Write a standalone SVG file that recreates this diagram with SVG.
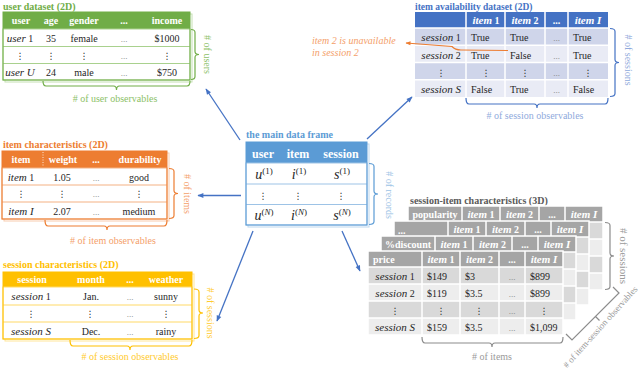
<svg xmlns="http://www.w3.org/2000/svg" xmlns:xlink="http://www.w3.org/1999/xlink" width="640" height="371" viewBox="0 0 640 371">
<defs>
<style>
text{font-family:"Liberation Serif","Times New Roman",serif;font-size:10px;fill:#262626}
.c{text-anchor:middle}
.w{fill:#fff;font-weight:bold}
.i{font-style:italic;font-size:11px}
.ttl{font-weight:bold;font-size:10px}
.dots{fill:#7f7f7f;font-size:9px}
.vd{font-family:"DejaVu Sans",sans-serif;font-size:9px}
.g{fill:#70AD47}.o{fill:#ED7D31}.y{fill:#FFC000}.bl{fill:#4472C4}.mb{fill:#5B9BD5}
.ga{fill:#8CC168}.oa{fill:#F4A06A}.ya{fill:#FFCB2E}.ba{fill:#8FAADC}.ra{fill:#9DC3E6}.gr{fill:#9A9A9A}
.br{fill:none;stroke-width:1.2}
.arrow{stroke:#4472C4;stroke-width:1.3;fill:none;marker-end:url(#ah)}
.mi{font-style:italic;font-size:14px}
.sup{font-size:9px}
</style>
<marker id="ah" viewBox="0 0 10 10" refX="9" refY="5" markerWidth="7" markerHeight="6" orient="auto" markerUnits="userSpaceOnUse"><path d="M0,1 L10,5 L0,9 z" fill="#4472C4"/></marker>
<marker id="ao" viewBox="0 0 10 10" refX="9" refY="5" markerWidth="6" markerHeight="5" orient="auto" markerUnits="userSpaceOnUse"><path d="M0,1 L10,5 L0,9 z" fill="#ED7D31"/></marker>
<g id="grid">
<rect x="0" y="0" width="195" height="16" fill="#A5A5A5"/>
<rect x="0" y="16" width="195" height="17" fill="#D9D9D9"/>
<rect x="0" y="33" width="195" height="17" fill="#EDEDED"/>
<rect x="0" y="50" width="195" height="17" fill="#D9D9D9"/>
<rect x="0" y="67" width="195" height="17" fill="#EDEDED"/>
<path d="M54,0V84M92,0V84M131,0V84M157,0V84M0,16H195M0,33H195M0,50H195M0,67H195" stroke="#fff" stroke-width="1.5"/>
<rect x="0" y="0" width="195" height="84" fill="none" stroke="#fff" stroke-width="1.5"/>
</g>
</defs>
<rect width="640" height="371" fill="#fff"/>

<!-- user dataset -->
<g id="user-dataset">
<text x="3" y="9.5" class="ttl g">user dataset (2D)</text>
<rect x="5" y="14" width="187" height="68" fill="none" stroke="#C5E0B4"/>
<rect x="3" y="12" width="187" height="17" fill="#70AD47"/>
<rect x="3" y="29" width="187" height="51" fill="#fff" stroke="#A9D18E"/>
<path d="M3,46.5H190M3,63.5H190" stroke="#A9D18E"/>
<rect x="3" y="12" width="187" height="68" fill="none" stroke="#70AD47"/>
<text x="21" y="24" class="w c">user</text>
<text x="51" y="24" class="w c">age</text>
<text x="84" y="24" class="w c">gender</text>
<text x="124" y="24" class="w c">...</text>
<text x="167" y="24" class="w c">income</text>
<text x="20" y="41.5" class="c"><tspan class="i">user</tspan> 1</text>
<text x="51" y="41.5" class="c">35</text>
<text x="84" y="41.5" class="c">female</text>
<text x="124" y="41.5" class="c dots">...</text>
<text x="167" y="41.5" class="c">$1000</text>
<text x="20" y="58.5" class="c vd">⋮</text>
<text x="51" y="58.5" class="c vd">⋮</text>
<text x="84" y="58.5" class="c vd">⋮</text>
<text x="124" y="58.5" class="c dots">...</text>
<text x="167" y="58.5" class="c vd">⋮</text>
<text x="20" y="75.5" class="c"><tspan class="i">user U</tspan></text>
<text x="51" y="75.5" class="c">24</text>
<text x="84" y="75.5" class="c">male</text>
<text x="124" y="75.5" class="c dots">...</text>
<text x="167" y="75.5" class="c">$750</text>
<path class="br" stroke="#70AD47" d="M191,29.5 Q195,29.5 195,32.5 V51.5 Q195,54.5 199,54.5 Q195,54.5 195,57.5 V76.5 Q195,79.5 191,79.5"/>
<text transform="translate(203.5,54.5) rotate(90)" class="c ga"># of users</text>
<path class="br" stroke="#70AD47" d="M43,81 Q43,86 46,86 H113.5 Q116.5,86 116.5,90 Q116.5,86 119.5,86 H187 Q190,86 190,81"/>
<text x="115" y="102" class="c ga"># of user observables</text>
</g>

<!-- item availability dataset -->
<g id="item-availability">
<text x="415" y="9.5" class="ttl bl" style="font-size:9.5px">item availability dataset (2D)</text>
<rect x="415" y="12" width="193" height="16" fill="#4472C4"/>
<rect x="415" y="28" width="193" height="17.3" fill="#CFD5EA"/>
<rect x="415" y="45.3" width="193" height="17.3" fill="#E9EBF5"/>
<rect x="415" y="62.6" width="193" height="17.2" fill="#CFD5EA"/>
<rect x="415" y="79.8" width="193" height="17.2" fill="#E9EBF5"/>
<path d="M466,12V97M505,12V97M545,12V97M568,12V97M415,28H608M415,45.3H608M415,62.6H608M415,79.8H608" stroke="#fff" stroke-width="1.5"/>
<text x="486" y="24" class="w c"><tspan class="i">item</tspan> 1</text>
<text x="525" y="24" class="w c"><tspan class="i">item</tspan> 2</text>
<text x="556.5" y="24" class="w c">...</text>
<text x="588" y="24" class="w c"><tspan class="i">item I</tspan></text>
<text x="441" y="41" class="c"><tspan class="i">session</tspan> 1</text>
<text x="471" y="41">True</text>
<text x="510" y="41">True</text>
<text x="556.5" y="41" class="c dots">...</text>
<text x="573" y="41">True</text>
<text x="441" y="58.5" class="c"><tspan class="i">session</tspan> 2</text>
<text x="471" y="58.5">True</text>
<text x="510" y="58.5">False</text>
<text x="556.5" y="58.5" class="c dots">...</text>
<text x="573" y="58.5">True</text>
<text x="441" y="75.5" class="c vd">⋮</text>
<text x="486" y="75.5" class="c vd">⋮</text>
<text x="525" y="75.5" class="c vd">⋮</text>
<text x="556.5" y="75.5" class="c dots">...</text>
<text x="588" y="75.5" class="c vd">⋮</text>
<text x="441" y="93" class="c"><tspan class="i">session S</tspan></text>
<text x="471" y="93">False</text>
<text x="510" y="93">True</text>
<text x="556.5" y="93" class="c dots">...</text>
<text x="573" y="93">False</text>
<path class="br" stroke="#4472C4" d="M610,28.5 Q615,28.5 615,31.5 V59.5 Q615,62.5 619,62.5 Q615,62.5 615,65.5 V93.5 Q615,96.5 610,96.5"/>
<text transform="translate(624.5,60) rotate(90)" class="c ba"># of sessions</text>
<path class="br" stroke="#4472C4" d="M466,98 Q466,104 469,104 H534 Q537,104 537,108 Q537,104 540,104 H605 Q608,104 608,98"/>
<text x="535" y="119" class="c ba"># of session observables</text>
</g>

<!-- annotation -->
<g id="unavailable-note">
<text x="312" y="44" class="oa" style="font-style:italic">item 2 is unavailable</text>
<text x="312" y="56" class="oa" style="font-style:italic">in session 2</text>
</g>

<!-- item characteristics -->
<g id="item-characteristics">
<text x="3" y="147.5" class="ttl o">item characteristics (2D)</text>
<rect x="4" y="153" width="165" height="68" fill="none" stroke="#F8CBAD"/>
<rect x="2" y="151" width="165" height="17" fill="#ED7D31"/>
<rect x="2" y="168" width="165" height="51" fill="#fff" stroke="#F4B183"/>
<path d="M2,185H167M2,202H167" stroke="#F4B183"/>
<rect x="2" y="151" width="165" height="68" fill="none" stroke="#ED7D31"/>
<path d="M43,152V167" stroke="#fff" stroke-dasharray="1,1.5" stroke-width="0.8"/>
<text x="21" y="163" class="w c">item</text>
<text x="63" y="163" class="w c">weight</text>
<text x="96" y="163" class="w c">...</text>
<text x="140" y="163" class="w c">durability</text>
<text x="21" y="180.5" class="c"><tspan class="i">item</tspan> 1</text>
<text x="62" y="180.5" class="c">1.05</text>
<text x="96" y="180.5" class="c dots">...</text>
<text x="139" y="180.5" class="c">good</text>
<text x="21" y="197" class="c vd">⋮</text>
<text x="62" y="197" class="c vd">⋮</text>
<text x="96" y="197" class="c dots">...</text>
<text x="139" y="197" class="c vd">⋮</text>
<text x="21" y="214.5" class="c"><tspan class="i">item I</tspan></text>
<text x="62" y="214.5" class="c">2.07</text>
<text x="96" y="214.5" class="c dots">...</text>
<text x="139" y="214.5" class="c">medium</text>
<path class="br" stroke="#ED7D31" d="M169,168.5 Q174,168.5 174,171.5 V190.5 Q174,193.5 178,193.5 Q174,193.5 174,196.5 V215.5 Q174,218.5 169,218.5"/>
<text transform="translate(183.5,194) rotate(90)" class="c oa"># of items</text>
<path class="br" stroke="#ED7D31" d="M45,220 Q45,226 48,226 H104 Q107,226 107,230 Q107,226 110,226 H164 Q167,226 167,220"/>
<text x="113" y="244" class="c oa"># of item observables</text>
</g>

<!-- session characteristics -->
<g id="session-characteristics">
<text x="3" y="267.5" class="ttl y">session characteristics (2D)</text>
<rect x="5" y="274" width="189" height="67" fill="none" stroke="#FFE699"/>
<rect x="3" y="272" width="189" height="15" fill="#FFC000"/>
<rect x="3" y="287" width="189" height="52" fill="#fff" stroke="#FFD966"/>
<path d="M3,305H192M3,322H192" stroke="#FFD966"/>
<rect x="3" y="272" width="189" height="67" fill="none" stroke="#FFC000"/>
<text x="32" y="283" class="w c">session</text>
<text x="91" y="283" class="w c">month</text>
<text x="130" y="283" class="w c">...</text>
<text x="166" y="283" class="w c">weather</text>
<text x="31" y="300" class="c"><tspan class="i">session</tspan> 1</text>
<text x="91" y="300" class="c">Jan.</text>
<text x="130" y="300" class="c dots">...</text>
<text x="166" y="300" class="c">sunny</text>
<text x="31" y="317" class="c vd">⋮</text>
<text x="90" y="317" class="c vd">⋮</text>
<text x="130" y="317" class="c dots">...</text>
<text x="166" y="317" class="c vd">⋮</text>
<text x="31" y="334.5" class="c"><tspan class="i">session S</tspan></text>
<text x="91" y="334.5" class="c">Dec.</text>
<text x="130" y="334.5" class="c dots">...</text>
<text x="166" y="334.5" class="c">rainy</text>
<path class="br" stroke="#FFC000" d="M194,289 Q199,289 199,292 V310 Q199,313 203,313 Q199,313 199,316 V335.5 Q199,338.5 194,338.5"/>
<text transform="translate(206.5,313) rotate(90)" class="c ya"># of sessions</text>
<path class="br" stroke="#FFC000" d="M70,340 Q70,346 73,346 H127 Q130,346 130,350 Q130,346 133,346 H189 Q192,346 192,340"/>
<text x="130" y="360" class="c ya"># of session observables</text>
</g>

<!-- main data frame -->
<g id="main-frame">
<text x="246" y="138" class="ttl mb">the main data frame</text>
<rect x="248" y="144" width="121" height="83" fill="none" stroke="#BDD7EE"/>
<rect x="246" y="142" width="121" height="21" fill="#5B9BD5"/>
<rect x="246" y="163" width="121" height="62" fill="#fff" stroke="#9DC3E6"/>
<path d="M246,184H367M246,204.5H367" stroke="#9DC3E6"/>
<rect x="246" y="142" width="121" height="83" fill="none" stroke="#5B9BD5"/>
<text x="263" y="157.5" class="w c" style="font-size:12px">user</text>
<text x="298" y="157.5" class="w c" style="font-size:12px">item</text>
<text x="341" y="157.5" class="w c" style="font-size:12px">session</text>
<text x="264" y="178.5" class="c"><tspan class="mi">u</tspan><tspan class="sup" dy="-5">(1)</tspan></text>
<text x="299" y="178.5" class="c"><tspan class="mi">i</tspan><tspan class="sup" dy="-5">(1)</tspan></text>
<text x="342" y="178.5" class="c"><tspan class="mi">s</tspan><tspan class="sup" dy="-5">(1)</tspan></text>
<text x="263" y="198.5" class="c vd">⋮</text>
<text x="298" y="198.5" class="c vd">⋮</text>
<text x="341" y="198.5" class="c vd">⋮</text>
<text x="264" y="219.5" class="c"><tspan class="mi">u</tspan><tspan class="sup" dy="-5">(<tspan font-style="italic">N</tspan>)</tspan></text>
<text x="299" y="219.5" class="c"><tspan class="mi">i</tspan><tspan class="sup" dy="-5">(<tspan font-style="italic">N</tspan>)</tspan></text>
<text x="342" y="219.5" class="c"><tspan class="mi">s</tspan><tspan class="sup" dy="-5">(<tspan font-style="italic">N</tspan>)</tspan></text>
<path class="br" stroke="#5B9BD5" d="M369,163.5 Q374,163.5 374,166.5 V191 Q374,194 378,194 Q374,194 374,197 V221.5 Q374,224.5 369,224.5"/>
<text transform="translate(385.5,195) rotate(90)" class="c ra"># of records</text>
</g>

<!-- session-item characteristics (3D) -->
<g id="session-item-characteristics">
<text x="410" y="203.5" class="ttl" style="fill:#595959">session-item characteristics (3D)</text>
<use xlink:href="#grid" href="#grid" x="408" y="206"/>
<text x="435" y="218" class="w c">popularity</text>
<text x="481" y="218" class="w c"><tspan class="i">item</tspan> 1</text>
<text x="519.5" y="218" class="w c"><tspan class="i">item</tspan> 2</text>
<text x="552" y="218" class="w c">...</text>
<text x="584" y="218" class="w c"><tspan class="i">item I</tspan></text>
<use xlink:href="#grid" href="#grid" x="394" y="221"/>
<text x="398" y="233.5" class="w">...</text>
<text x="467" y="233" class="w c"><tspan class="i">item</tspan> 1</text>
<text x="505.5" y="233" class="w c"><tspan class="i">item</tspan> 2</text>
<text x="538" y="233" class="w c">...</text>
<text x="570" y="233" class="w c"><tspan class="i">item I</tspan></text>
<use xlink:href="#grid" href="#grid" x="381" y="236"/>
<text x="408" y="248" class="w c">%discount</text>
<text x="454" y="248" class="w c"><tspan class="i">item</tspan> 1</text>
<text x="492.5" y="248" class="w c"><tspan class="i">item</tspan> 2</text>
<text x="525" y="248" class="w c">...</text>
<text x="557" y="248" class="w c"><tspan class="i">item I</tspan></text>
<use xlink:href="#grid" href="#grid" x="368" y="251"/>
<text x="373" y="263" class="w">price</text>
<text x="441" y="263" class="w c"><tspan class="i">item</tspan> 1</text>
<text x="479.5" y="263" class="w c"><tspan class="i">item</tspan> 2</text>
<text x="512" y="263" class="w c">...</text>
<text x="544" y="263" class="w c"><tspan class="i">item I</tspan></text>
<text x="395" y="279.5" class="c"><tspan class="i">session</tspan> 1</text>
<text x="427" y="279.5">$149</text>
<text x="465" y="279.5">$3</text>
<text x="512" y="279.5" class="c dots">...</text>
<text x="530" y="279.5">$899</text>
<text x="395" y="296.5" class="c"><tspan class="i">session</tspan> 2</text>
<text x="427" y="296.5">$119</text>
<text x="465" y="296.5">$3.5</text>
<text x="512" y="296.5" class="c dots">...</text>
<text x="530" y="296.5">$899</text>
<text x="395" y="313.5" class="c vd">⋮</text>
<text x="441" y="313.5" class="c vd">⋮</text>
<text x="479" y="313.5" class="c vd">⋮</text>
<text x="512" y="313.5" class="c dots">...</text>
<text x="544" y="313.5" class="c vd">⋮</text>
<text x="395" y="330.5" class="c"><tspan class="i">session S</tspan></text>
<text x="427" y="330.5">$159</text>
<text x="465" y="330.5">$3.5</text>
<text x="512" y="330.5" class="c dots">...</text>
<text x="530" y="330.5">$1,099</text>
<path class="br" stroke="#8C8C8C" d="M605,222.5 Q610,222.5 610,225.5 V253 Q610,256 614,256 Q610,256 610,259 V286.5 Q610,289.5 605,289.5"/>
<text transform="translate(620,256) rotate(90)" class="c gr" style="font-size:11px"># of sessions</text>
<path class="br" stroke="#8C8C8C" d="M422,337 Q422,343 425,343 H489 Q492,343 492,347 Q492,343 495,343 H560 Q563,343 563,337"/>
<text x="492" y="360" class="c gr"># of items</text>
<path class="br" stroke="#8C8C8C" d="M566,334 L572,340 L619,293 L613,287 M595.5,316.5 L599.5,320.5"/>
<text transform="translate(602.5,329) rotate(-48)" class="c gr" style="font-size:9px"># of item-session observables</text>
</g>

<!-- connectors -->
<g id="connectors">
<path class="arrow" d="M240,140 L206,89"/>
<path class="arrow" d="M367,139 L412,97"/>
<path class="arrow" d="M241,195.5 L198,195.5"/>
<path class="arrow" d="M253,231 L217,321"/>
<path class="arrow" d="M342,231 L360,271"/>
<path d="M508,50.5 L461,50 Q455,50 452,46.5 L406,43" fill="none" stroke="#ED7D31" stroke-width="1.2" marker-end="url(#ao)"/>
</g>
</svg>
